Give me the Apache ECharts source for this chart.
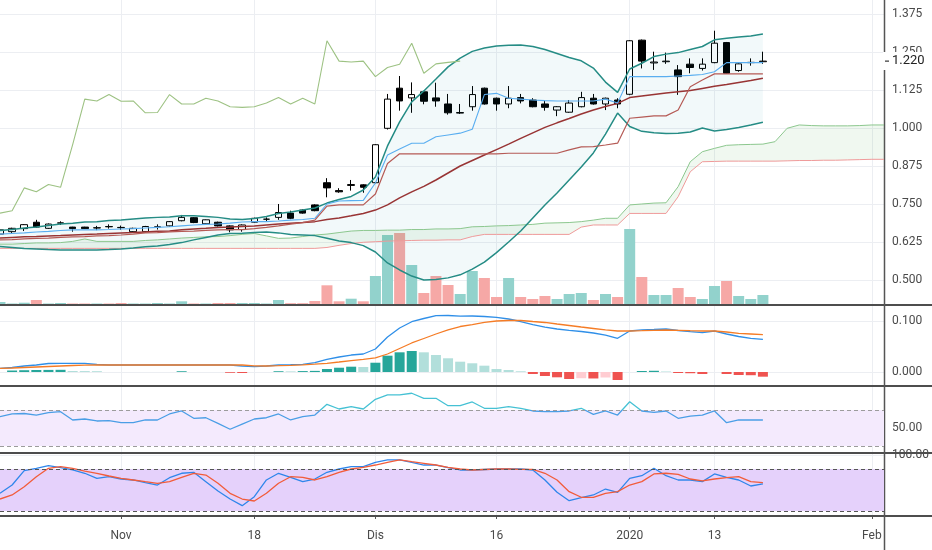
<!DOCTYPE html>
<html><head><meta charset="utf-8">
<script src="https://cdn.jsdelivr.net/npm/echarts@6/dist/echarts.min.js"></script>
<style>html,body{margin:0;padding:0;background:#fff}#c{width:932px;height:550px}</style>
</head><body><div id="c"></div>
<script>
const dates = ['2019-10-18','2019-10-21','2019-10-22','2019-10-23','2019-10-24','2019-10-25','2019-10-28','2019-10-29','2019-10-30','2019-10-31',
'2019-11-01','2019-11-04','2019-11-05','2019-11-06','2019-11-07','2019-11-08','2019-11-11','2019-11-12','2019-11-13','2019-11-14',
'2019-11-15','2019-11-18','2019-11-19','2019-11-20','2019-11-21','2019-11-22','2019-11-25','2019-11-26','2019-11-27','2019-11-28',
'2019-11-29','2019-12-02','2019-12-03','2019-12-04','2019-12-05','2019-12-06','2019-12-09','2019-12-10','2019-12-11','2019-12-12',
'2019-12-13','2019-12-16','2019-12-17','2019-12-18','2019-12-19','2019-12-20','2019-12-23','2019-12-24','2019-12-26','2019-12-27',
'2019-12-30','2019-12-31','2020-01-02','2020-01-03','2020-01-06','2020-01-07','2020-01-08','2020-01-09','2020-01-10','2020-01-13',
'2020-01-14','2020-01-15','2020-01-16','2020-01-17','2020-01-20','2020-01-21','2020-01-22','2020-01-23','2020-01-27','2020-01-28',
'2020-01-29','2020-01-30','2020-02-03','2020-02-04'];
const tickDates = ['2019-11-01','2019-11-18','2019-12-02','2019-12-16','2020-01-02','2020-01-13','2020-02-03'];
const tickText = ['Nov','18','Dis','16','2020','13','Feb'];
const priceTicks = [0.5,0.625,0.75,0.875,1.0,1.125,1.25,1.375];
const macdTicks = [0,0.1];
const rsiTicks = [50];
const stochTicks = [100];

const opens = [0.651,0.659,0.669,0.690,0.670,0.687,0.674,0.674,0.671,0.676,
0.673,0.659,0.659,0.674,0.678,0.695,0.705,0.685,0.690,0.678,
0.666,0.690,0.700,0.706,0.720,0.730,0.747,0.820,0.794,0.811,
0.813,0.820,0.999,1.131,1.099,1.119,1.099,1.079,1.049,1.070,
1.131,1.098,1.079,1.100,1.092,1.079,1.059,1.052,1.070,1.098,
1.079,1.092,1.111,1.289,1.214,1.218,1.191,1.210,1.196,1.215,
1.281,1.189,1.215,1.218];
const closes = [0.665,0.670,0.682,0.674,0.684,0.688,0.669,0.669,0.672,0.675,
0.672,0.670,0.676,0.675,0.692,0.706,0.689,0.698,0.678,0.665,
0.681,0.703,0.700,0.722,0.703,0.720,0.728,0.803,0.790,0.814,
0.805,0.945,1.095,1.089,1.110,1.088,1.089,1.050,1.051,1.110,
1.079,1.079,1.098,1.089,1.070,1.068,1.070,1.082,1.100,1.079,
1.098,1.079,1.287,1.220,1.217,1.220,1.169,1.199,1.210,1.279,
1.180,1.211,1.216,1.220];
const lows = [0.646,0.655,0.661,0.672,0.668,0.681,0.659,0.668,0.664,0.669,
0.665,0.657,0.657,0.666,0.676,0.693,0.687,0.681,0.676,0.657,
0.659,0.688,0.692,0.698,0.700,0.718,0.726,0.772,0.787,0.794,
0.787,0.818,0.995,1.057,1.050,1.078,1.070,1.044,1.046,1.057,
1.077,1.057,1.065,1.081,1.068,1.057,1.039,1.050,1.068,1.077,
1.059,1.065,1.108,1.196,1.191,1.211,1.109,1.180,1.189,1.213,
1.178,1.185,1.205,1.211];
const highs = [0.668,0.672,0.684,0.698,0.686,0.693,0.675,0.675,0.678,0.683,
0.679,0.672,0.678,0.683,0.694,0.714,0.707,0.699,0.692,0.680,
0.683,0.705,0.706,0.750,0.728,0.732,0.749,0.835,0.802,0.829,
0.815,0.947,1.112,1.171,1.150,1.121,1.149,1.112,1.079,1.138,
1.133,1.100,1.138,1.112,1.098,1.092,1.072,1.092,1.119,1.112,
1.100,1.098,1.289,1.291,1.251,1.248,1.207,1.229,1.229,1.320,
1.283,1.213,1.229,1.251];
const volumes = [2,0.5,1.3,4,0.5,1,0.5,0.5,0.5,0.5,
1,0.5,0.5,1,0.5,2.7,0.5,0.5,1,1,
1,1,0.5,4,0.8,0.8,3,18.7,2.7,5.3,
2.7,28,69,71,39,11,28,19,10,33,
26,7,26,7,5,8,5,10,11,4,
10,7,75,27,9,9,16,7,5,18,
23,8,5,9];
const bbUpper = [0.663,0.666,0.671,0.674,0.679,0.684,0.687,0.691,0.692,0.696,
0.697,0.701,0.704,0.706,0.707,0.711,0.711,0.709,0.706,0.701,
0.699,0.702,0.709,0.719,0.724,0.730,0.737,0.753,0.765,0.775,
0.796,0.839,0.941,1.020,1.086,1.122,1.161,1.201,1.230,1.252,
1.263,1.270,1.272,1.273,1.268,1.258,1.245,1.232,1.221,1.197,
1.151,1.117,1.194,1.213,1.235,1.243,1.248,1.258,1.268,1.290,
1.295,1.299,1.303,1.309];
const bbLower = [0.610,0.607,0.604,0.602,0.600,0.599,0.599,0.599,0.599,0.600,
0.602,0.605,0.609,0.612,0.617,0.623,0.632,0.640,0.648,0.653,
0.654,0.656,0.658,0.655,0.650,0.648,0.646,0.637,0.628,0.623,
0.613,0.592,0.556,0.533,0.513,0.500,0.502,0.507,0.517,0.536,
0.559,0.590,0.625,0.661,0.704,0.747,0.786,0.829,0.872,0.918,
0.980,1.049,1.005,0.989,0.984,0.982,0.983,0.987,1.000,0.990,
0.995,1.002,1.010,1.019];
const bbBasis = [0.638,0.640,0.642,0.643,0.645,0.646,0.648,0.650,0.651,0.653,
0.655,0.656,0.658,0.660,0.661,0.665,0.668,0.670,0.673,0.674,
0.676,0.678,0.681,0.684,0.687,0.689,0.692,0.699,0.704,0.711,
0.719,0.730,0.747,0.770,0.790,0.808,0.829,0.852,0.875,0.893,
0.911,0.929,0.947,0.966,0.984,1.002,1.017,1.031,1.046,1.059,
1.071,1.081,1.100,1.105,1.110,1.115,1.119,1.123,1.130,1.137,
1.143,1.150,1.156,1.164];
const tenkan = [0.651,0.653,0.655,0.658,0.660,0.663,0.665,0.665,0.665,0.666,
0.668,0.669,0.671,0.673,0.675,0.678,0.681,0.683,0.684,0.687,
0.691,0.692,0.692,0.694,0.697,0.699,0.703,0.750,0.760,0.761,
0.762,0.819,0.911,0.931,0.950,0.950,0.971,0.977,0.983,0.996,
1.110,1.114,1.098,1.095,1.092,1.090,1.089,1.089,1.089,1.089,
1.095,1.082,1.169,1.169,1.169,1.169,1.171,1.173,1.176,1.185,
1.215,1.215,1.215,1.215];
const kijun = [0.632,0.633,0.635,0.637,0.638,0.640,0.642,0.643,0.645,0.646,
0.648,0.651,0.655,0.656,0.658,0.660,0.661,0.663,0.665,0.666,
0.666,0.669,0.673,0.678,0.684,0.689,0.697,0.743,0.747,0.747,
0.747,0.783,0.883,0.915,0.915,0.915,0.915,0.915,0.915,0.915,
0.915,0.915,0.917,0.917,0.917,0.917,0.917,0.928,0.938,0.939,
0.944,0.950,1.032,1.036,1.040,1.040,1.059,1.136,1.158,1.178,
1.178,1.178,1.178,1.178];
const senkouA = [0.618,0.618,0.620,0.622,0.622,0.623,0.627,0.635,0.627,0.627,
0.627,0.627,0.630,0.632,0.635,0.638,0.640,0.642,0.643,0.646,
0.650,0.653,0.645,0.637,0.638,0.643,0.648,0.651,0.656,0.661,
0.663,0.663,0.664,0.664,0.666,0.666,0.668,0.668,0.669,0.675,
0.676,0.678,0.679,0.681,0.683,0.687,0.688,0.689,0.692,0.697,
0.703,0.703,0.747,0.750,0.753,0.754,0.807,0.889,0.922,0.933,
0.943,0.945,0.946,0.947,0.955,0.999,1.010,1.008,1.007,1.007,
1.007,1.008,1.010,1.010];
const senkouB = [0.604,0.604,0.604,0.604,0.604,0.604,0.604,0.604,0.604,0.604,
0.604,0.604,0.604,0.604,0.604,0.604,0.604,0.604,0.604,0.604,
0.604,0.604,0.604,0.604,0.604,0.604,0.604,0.607,0.614,0.620,
0.624,0.626,0.628,0.629,0.630,0.631,0.631,0.632,0.632,0.643,
0.650,0.650,0.650,0.650,0.650,0.650,0.650,0.650,0.674,0.681,
0.681,0.681,0.719,0.719,0.719,0.719,0.774,0.856,0.889,0.890,
0.891,0.891,0.891,0.891,0.891,0.892,0.893,0.893,0.894,0.894,
0.895,0.896,0.897,0.897];
const macd = [0.0073,0.0088,0.0118,0.0137,0.0167,0.0171,0.0171,0.0171,0.0147,0.0137,
0.0137,0.0137,0.0137,0.0137,0.0137,0.0137,0.0137,0.0137,0.0137,0.0137,
0.0118,0.0104,0.0118,0.0137,0.0143,0.0151,0.0182,0.0249,0.0294,0.0333,
0.0353,0.0451,0.0686,0.0863,0.0986,0.1049,0.1104,0.1108,0.1094,0.1098,
0.1088,0.1073,0.1039,0.0990,0.0931,0.0882,0.0843,0.0818,0.0794,0.0765,
0.0725,0.0661,0.0804,0.0824,0.0833,0.0843,0.0814,0.0790,0.0771,0.0804,
0.0745,0.0696,0.0661,0.0641];
const signal = [0.0073,0.0078,0.0088,0.0098,0.0108,0.0118,0.0127,0.0133,0.0137,0.0137,
0.0137,0.0137,0.0137,0.0137,0.0137,0.0137,0.0137,0.0137,0.0137,0.0137,
0.0137,0.0122,0.0118,0.0124,0.0131,0.0141,0.0153,0.0171,0.0196,0.0225,
0.0249,0.0275,0.0353,0.0461,0.0569,0.0657,0.0745,0.0824,0.0892,0.0931,
0.0971,0.1000,0.1010,0.1010,0.0990,0.0971,0.0941,0.0912,0.0882,0.0853,
0.0824,0.0804,0.0804,0.0810,0.0818,0.0824,0.0818,0.0810,0.0804,0.0804,
0.0784,0.0759,0.0745,0.0731];
const hist = [0,0.0029,0.0035,0.0039,0.0041,0.0043,0.0020,0.0018,0.0016,0,
0,0,0,0,0,0.0015,0,0,0,-0.0015,
-0.0020,0,0,0.0015,0.0012,0.0018,0.0022,0.0059,0.0084,0.0104,
0.0098,0.0182,0.0320,0.0386,0.0412,0.0386,0.0333,0.0269,0.0202,0.0171,
0.0124,0.0059,0.0039,0.0014,-0.0039,-0.0078,-0.0104,-0.0137,-0.0122,-0.0127,
-0.0108,-0.0157,0,0.0020,0.0024,0.0010,-0.0020,-0.0024,-0.0039,0,
-0.0039,-0.0059,-0.0063,-0.0092];
const rsi = [62.6,65.6,66.1,64.4,67.0,68.1,58.9,60.0,57.8,58.1,
55.9,55.9,58.9,58.9,65.6,68.9,60.8,61.4,55.2,48.6,
54.4,60.0,61.4,65.6,58.9,62.6,64.4,76.3,71.1,73.7,
71.1,81.9,86.7,86.7,88.6,83.0,83.0,74.8,74.8,78.9,
71.9,71.9,73.7,71.9,68.9,68.1,68.3,68.9,71.9,65.2,
68.9,64.4,79.2,68.9,67.4,68.9,60.8,63.3,64.4,68.9,
55.9,58.9,58.9,58.9];
const stochK = [45.3,57.1,77.6,81.0,84.7,81.9,78.6,73.9,66.7,69.0,
65.7,64.3,60.4,57.1,67.6,73.9,75.3,61.9,48.6,37.1,
27.6,40.4,64.3,73.9,68.1,61.9,65.7,75.3,80.0,83.3,
83.3,89.6,92.9,92.9,89.6,85.7,85.7,81.9,78.6,78.6,
79.3,80.0,80.0,80.0,78.6,64.3,46.7,34.7,39.0,42.9,
51.4,46.7,66.7,70.4,81.0,70.4,64.3,64.3,61.9,72.9,
68.1,64.3,55.7,58.6];
const stochD = [37.1,42.9,54.7,69.0,81.0,83.3,81.0,77.1,73.9,70.0,
66.7,64.3,61.9,59.6,61.9,68.1,73.9,71.4,59.6,45.3,
37.1,34.3,45.3,59.6,69.0,68.1,64.3,69.0,75.3,80.0,
82.4,85.7,89.6,92.9,90.4,88.1,85.7,82.4,80.0,78.6,
79.3,80.0,80.0,79.6,79.6,73.9,64.3,47.6,39.6,39.6,
45.3,47.6,57.1,61.9,72.9,73.9,72.4,65.7,62.9,65.7,
67.6,69.0,61.9,60.4];
const chikouShift = 25;

const chart = echarts.init(document.getElementById('c'), null, {renderer:'canvas'});
const TXT = '#4a4a4a', GRIDC = '#eceef2';
const FONT = 'Roboto, "Liberation Sans", Arial, sans-serif';
const isTick = (i) => tickDates.indexOf(dates[i]) >= 0;

const candles = opens.map((o,i)=>[o, closes[i], lows[i], highs[i]]);
const chikou = closes.slice(chikouShift);
const bbBand = bbUpper.map((u,i)=> +(u - bbLower[i]).toFixed(4));
const cloudBand = senkouA.map((a,i)=> +(a - senkouB[i]).toFixed(4));
const volData = volumes.map((v,i)=>({value:v, itemStyle:{color: closes[i] >= opens[i] ? '#92d2cc' : '#f6a8a6'}}));
const histData = hist.map((v,i)=>{
  const p = i>0 ? hist[i-1] : 0;
  let c;
  if (v >= 0) c = v > p ? '#26a69a' : '#b2dfdb';
  else c = v < p ? '#ef5350' : '#ffcdd2';
  return {value:v, itemStyle:{color:c}};
});

const gridBoxes = [
  {left:0, right:48, top:0, height:304},
  {left:0, right:48, top:306, height:79},
  {left:0, right:48, top:387, height:65},
  {left:0, right:48, top:454, height:61}
];
const grids = gridBoxes.map(g=>Object.assign({}, g, {containLabel:false, outerBoundsMode:'none'}));

const xAxes = [0,1,2,3].map(g=>({
  type:'category', data:dates, gridIndex:g, boundaryGap:false,
  axisLine:{show:false},
  axisTick: g===3 ? {show:true, interval:(i)=>isTick(i), length:4, lineStyle:{color:'#555'}} : {show:false},
  axisLabel: g===3 ? {show:true, interval:(i)=>isTick(i), formatter:(v)=>tickText[tickDates.indexOf(v)],
     color:TXT, fontSize:12, margin:15, fontFamily:FONT} : {show:false},
  splitLine:{show:true, interval:(i)=>isTick(i), lineStyle:{color:GRIDC, width:1}}
}));

function valAxis(g, min, max, ticks, dec){
  return {type:'value', gridIndex:g, position:'right', min:min, max:max, scale:true,
    axisLine:{show:false},
    axisTick:{show:false, customValues:ticks},
    axisLabel:{show:true, customValues:ticks, formatter:(v)=>v.toFixed(dec), color:TXT, fontSize:12, margin:8, fontFamily:FONT},
    splitLine:{show:true, lineStyle:{color:GRIDC, width:1}}};
}
const rsiMin = 23.333, rsiMax = 95.556;
const yAxes = [
  valAxis(0, 0.42105, 1.42105, priceTicks, 3),
  {type:'value', gridIndex:0, min:0, max:304, show:false, splitLine:{show:false}},
  valAxis(1, -0.02549, 0.12941, macdTicks, 3),
  valAxis(2, rsiMin, rsiMax, rsiTicks, 2),
  valAxis(3, 14.286, 101.43, stochTicks, 2)
];

// RSI line colour changes at the 70 level (styling only)
const rg = gridBoxes[2];
const cut = (rsiMax - 70) / (rsiMax - rsiMin);
const rsiColor = {type:'linear', x:0, y:rg.top, x2:0, y2:rg.top + rg.height, global:true,
  colorStops:[{offset:0, color:'#45c1d4'},{offset:cut, color:'#45c1d4'},{offset:cut, color:'#4a9ee6'},{offset:1, color:'#4a9ee6'}]};

const L = (name, data, color, width, xi, yi, extra) => Object.assign({
  name, type:'line', data, xAxisIndex:xi, yAxisIndex:yi, symbol:'none', silent:true,
  lineStyle:{color, width}, itemStyle:{color:'#888'}, animation:false
}, extra||{});

const series = [];
series.push(L('bbBase', bbLower, '#000', 0, 0, 0, {stack:'bb', lineStyle:{opacity:0, width:0}}));
series.push(L('bbBand', bbBand, '#000', 0, 0, 0, {stack:'bb', lineStyle:{opacity:0, width:0}, areaStyle:{color:'rgba(0,140,160,0.07)'}}));
series.push(L('cloudBase', senkouB, '#000', 0, 0, 0, {stack:'cloud', lineStyle:{opacity:0, width:0}}));
series.push(L('cloudBand', cloudBand, '#000', 0, 0, 0, {stack:'cloud', lineStyle:{opacity:0, width:0}, areaStyle:{color:'rgba(76,175,80,0.12)'}}));
series.push({name:'Volume', type:'bar', xAxisIndex:0, yAxisIndex:1, data:volData, barWidth:11, silent:true, animation:false});
series.push(L('Senkou A', senkouA, '#8cc78e', 1, 0, 0));
series.push(L('Senkou B', senkouB, '#ef9a9a', 1, 0, 0));
series.push(L('BB Upper', bbUpper, '#258c85', 1.5, 0, 0));
series.push(L('BB Lower', bbLower, '#258c85', 1.5, 0, 0));
series.push(L('BB Basis', bbBasis, '#983434', 1.5, 0, 0));
series.push(L('Tenkan', tenkan, '#5aaef0', 1.1, 0, 0));
series.push(L('Kijun', kijun, '#b55a55', 1.2, 0, 0));
series.push(L('Chikou', chikou, '#9dc283', 1.1, 0, 0));
series.push({name:'Harga', type:'candlestick', xAxisIndex:0, yAxisIndex:0, data:candles, barWidth:7, silent:true, animation:false,
  itemStyle:{color:'#ffffff', color0:'#000000', borderColor:'#000000', borderColor0:'#000000', borderWidth:1}});
series.push({name:'Histogram', type:'bar', xAxisIndex:1, yAxisIndex:2, data:histData, barWidth:10, silent:true, animation:false});
series.push(L('MACD', macd, '#2f8fe8', 1.3, 1, 2));
series.push(L('Signal', signal, '#f57c26', 1.3, 1, 2));
series.push(L('RSI', rsi, rsiColor, 1.3, 2, 3, {
  markArea:{silent:true, itemStyle:{color:'#f4eafd'}, data:[[{yAxis:30},{yAxis:70}]]},
  markLine:{silent:true, symbol:['none','none'], animation:false, label:{show:false}, lineStyle:{color:'#9c9c9c', type:[4,3], width:1}, data:[{yAxis:70},{yAxis:30}]}
}));
series.push(L('%K', stochK, '#2f86eb', 1.3, 3, 4, {
  markArea:{silent:true, itemStyle:{color:'#e5d1fb'}, data:[[{yAxis:20},{yAxis:80}]]},
  markLine:{silent:true, symbol:['none','none'], animation:false, label:{show:false}, lineStyle:{color:'#555', type:[4,3], width:1}, data:[{yAxis:80},{yAxis:20}]}
}));
series.push(L('%D', stochD, '#f25c3a', 1.3, 3, 4));

const graphics = [305, 386, 453, 516].map(y=>({type:'line', z:1, silent:true, shape:{x1:0,y1:y,x2:932,y2:y}, style:{stroke:'#4d4d4d', lineWidth:2}}));
graphics.push({type:'line', z:1, silent:true, shape:{x1:884.5,y1:0,x2:884.5,y2:550}, style:{stroke:'#555', lineWidth:1.5}});

chart.setOption({
  animation:false,
  backgroundColor:'#ffffff',
  textStyle:{fontFamily:FONT},
  grid:grids,
  xAxis:xAxes,
  yAxis:yAxes,
  graphic: graphics,
  series:series
});

// last-price marker on the price axis, placed through the price scale
const lastClose = closes[closes.length-1];
const yPx = chart.convertToPixel({yAxisIndex:0}, lastClose);
const axX = 884;
graphics.push({type:'rect', z:20, silent:true, shape:{x:axX-1, y:yPx-9, width:932-axX+1, height:18}, style:{fill:'#ffffff'}});
graphics.push({type:'line', z:21, silent:true, shape:{x1:axX+1, y1:yPx, x2:axX+5, y2:yPx}, style:{stroke:'#333', lineWidth:1.2}});
graphics.push({type:'text', z:21, silent:true, x:axX+8, y:yPx, style:{text:lastClose.toFixed(3), fill:'#222', font:'13px ' + FONT, verticalAlign:'middle', align:'left'}});
chart.setOption({graphic: graphics});
</script>
</body></html>
